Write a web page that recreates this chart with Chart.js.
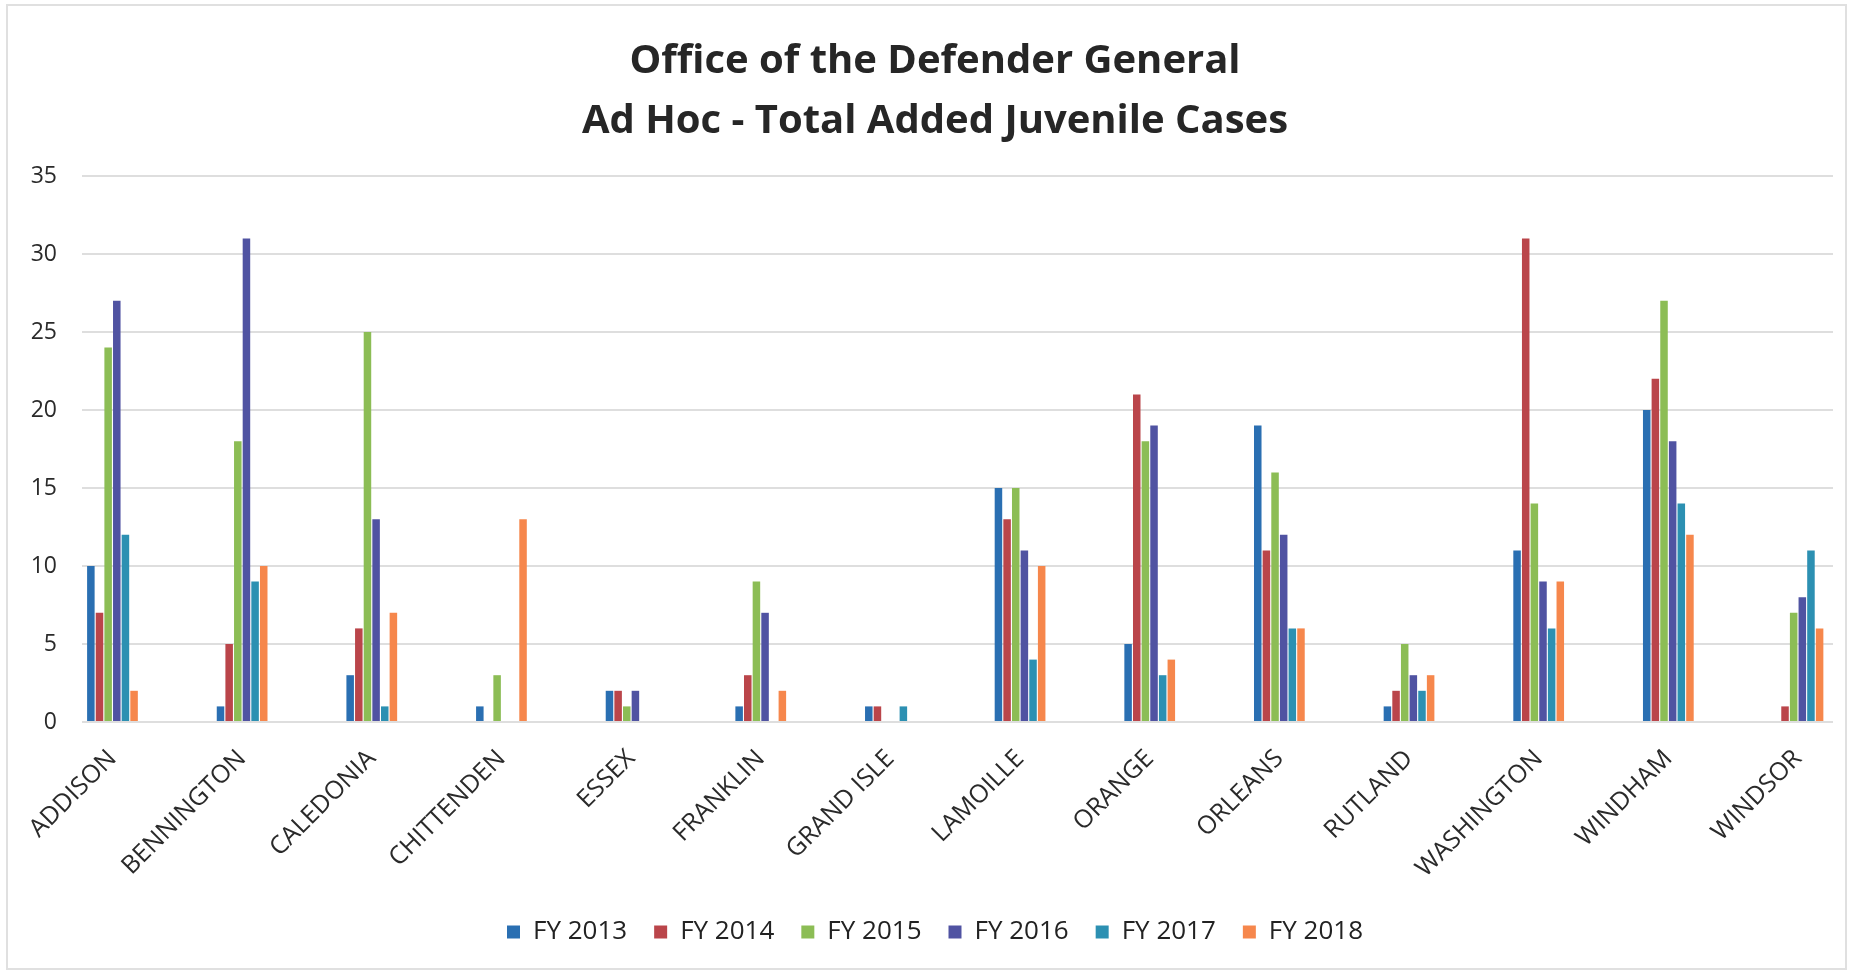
<!DOCTYPE html>
<html><head><meta charset="utf-8">
<script src="https://cdn.jsdelivr.net/npm/chart.js@4.4.1/dist/chart.umd.min.js"></script>
<style>
html,body{margin:0;padding:0;background:#fff;}
#wrap{position:relative;width:1866px;height:973px;background:#fff;}
#frame{position:absolute;left:6px;top:4px;width:1841px;height:966px;border:2px solid #e0e0e0;box-sizing:border-box;pointer-events:none;}
</style></head><body>
<div id="wrap"><canvas id="c" width="1866" height="973"></canvas><div id="frame"></div></div>
<script>
const categories = ['ADDISON','BENNINGTON','CALEDONIA','CHITTENDEN','ESSEX','FRANKLIN','GRAND ISLE','LAMOILLE','ORANGE','ORLEANS','RUTLAND','WASHINGTON','WINDHAM','WINDSOR'];
const seriesNames = ['FY 2013','FY 2014','FY 2015','FY 2016','FY 2017','FY 2018'];
const fy2013 = [10, 1, 3, 1, 2, 1, 1, 15, 5, 19, 1, 11, 20, 0];
const fy2014 = [7, 5, 6, 0, 2, 3, 1, 13, 21, 11, 2, 31, 22, 1];
const fy2015 = [24, 18, 25, 3, 1, 9, 0, 15, 18, 16, 5, 14, 27, 7];
const fy2016 = [27, 31, 13, 0, 2, 7, 0, 11, 19, 12, 3, 9, 18, 8];
const fy2017 = [12, 9, 1, 0, 0, 0, 1, 4, 3, 6, 2, 6, 14, 11];
const fy2018 = [2, 10, 7, 13, 0, 2, 0, 10, 4, 6, 3, 9, 12, 6];
const yTicks = [0, 5, 10, 15, 20, 25, 30, 35];
const colors = ['#2A6FB2', '#BA454A', '#8CBD55', '#5053A2', '#2C90B2', '#F6874C'];

const seriesValues = [fy2013, fy2014, fy2015, fy2016, fy2017, fy2018];
const datasets = seriesValues.map((vals, s) => ({
  label: seriesNames[s],
  data: vals.map((v, i) => ({x: i, y: v})),
  backgroundColor: colors[s],
  borderWidth: 0,
  categoryPercentage: 0.4,
  barPercentage: 0.87
}));

const FONT = '"Open Sans", "Liberation Sans", sans-serif';

new Chart(document.getElementById('c'), {
  type: 'bar',
  data: { datasets },
  options: {
    responsive: false,
    animation: false,
    devicePixelRatio: 1,
    layout: { padding: { left: 22, right: 18, top: 0, bottom: 18 } },
    plugins: {
      tooltip: { enabled: false },
      title: {
        display: true,
        text: ['Office of the Defender General', 'Ad Hoc - Total Added Juvenile Cases'],
        color: '#262626',
        font: { family: FONT, size: 40, weight: 'bold', lineHeight: 1.5 },
        padding: { top: 32, bottom: 24 }
      },
      legend: {
        position: 'bottom',
        labels: {
          color: '#222',
          font: { family: FONT, size: 26 },
          boxWidth: 13,
          boxHeight: 13,
          padding: 27
        }
      }
    },
    scales: {
      x: {
        type: 'linear',
        offset: false,
        min: -0.235,
        max: 13.27,
        grid: { display: false },
        border: { display: false },
        ticks: {
          stepSize: 1,
          includeBounds: false,
          autoSkip: false,
          minRotation: 45,
          maxRotation: 45,
          padding: 14,
          color: '#2a2a2a',
          font: { family: FONT, size: 25 },
          callback: (v) => categories[v] !== undefined && Number.isInteger(v) ? categories[v] : ''
        },
        afterFit: (s) => { s.height = 170; }
      },
      y: {
        min: 0,
        max: 35,
        grid: { color: '#dedede', lineWidth: 2, drawTicks: false },
        border: { display: false },
        afterBuildTicks: (s) => { s.ticks = yTicks.map(v => ({value: v})); },
        ticks: {
          padding: 25,
          color: '#2a2a2a',
          font: { family: FONT, size: 23 }
        },
        afterFit: (s) => { s.width = 60; }
      },
      yRight: {
        position: 'right',
        display: true,
        min: 0,
        max: 35,
        grid: { drawOnChartArea: false, drawTicks: false },
        border: { display: false },
        ticks: { display: false },
        afterFit: (s) => { s.width = 15; }
      }
    }
  }
});
</script>
</body></html>
